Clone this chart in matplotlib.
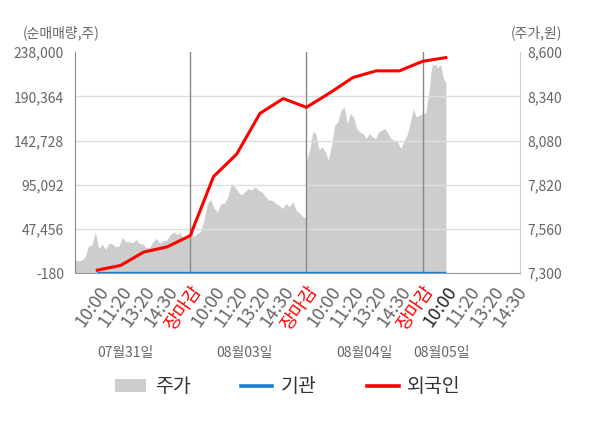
import numpy as np
import matplotlib.pyplot as plt
from matplotlib.patches import Patch
from matplotlib.lines import Line2D

plt.rcParams['font.family'] = ['Noto Sans CJK KR', 'DejaVu Sans']

# 주가 (원) - one list per trading day
price_0731 = [7376, 7372, 7376, 7396, 7459, 7465, 7543, 7445, 7471, 7439, 7475, 7471,
              7455, 7459, 7510, 7484, 7484, 7478, 7498, 7475, 7471, 7451, 7451, 7484,
              7504, 7475, 7490, 7494, 7523, 7543, 7529, 7537, 7504, 7523, 7518]
price_0803 = [7602, 7514, 7533, 7543, 7612, 7710, 7733, 7680, 7661, 7710, 7710, 7749,
              7827, 7808, 7778, 7759, 7778, 7798, 7788, 7808, 7788, 7778, 7749, 7729,
              7729, 7710, 7700, 7680, 7710, 7690, 7719, 7670, 7651, 7631, 7622]
price_0804 = [7964, 8023, 8131, 8121, 8027, 8043, 8013, 7964, 8053, 8170, 8190, 8258,
              8278, 8180, 8239, 8219, 8151, 8131, 8121, 8092, 8121, 8102, 8092, 8131,
              8141, 8151, 8121, 8092, 8082, 8072, 8033, 8072, 8111, 8180, 8268, 8219,
              8229, 8239]
price_0805 = [8239, 8239, 8248, 8317, 8376, 8484, 8533, 8523, 8533, 8504, 8523, 8523,
              8464, 8435, 8425]

# 누적 순매매량 (주)
foreign = [3000, 8000, 22500, 28000, 40200, 103800, 128200, 172000, 188000, 178600,
           194000, 210700, 217900, 217900, 228200, 232200]
inst = [0, 0, 0, 0, 0, 0, 0, 0, 0, 0, 0, 0, 0, 0, 0, 0]

tick_labels = ['10:00', '11:20', '13:20', '14:30', '장마감',
               '10:00', '11:20', '13:20', '14:30', '장마감',
               '10:00', '11:20', '13:20', '14:30', '장마감',
               '10:00', '11:20', '13:20', '14:30']
dates = ['07월31일', '08월03일', '08월04일', '08월05일']
date_pos = [1.2, 6.35, 11.5, 14.8]

left_ticks = [-180, 47456, 95092, 142728, 190364, 238000]
right_ticks = [7300, 7560, 7820, 8080, 8340, 8600]

days = [price_0731, price_0803, price_0804, price_0805]
spans = [(-0.96, 4), (4, 9), (9, 14), (14, 15)]
px, py = [], []
for vals, (a, b) in zip(days, spans):
    px.extend(np.linspace(a, b, len(vals)))
    py.extend(vals)

fig = plt.figure(figsize=(6, 4.28), dpi=100)
ax = fig.add_axes([0.125, 0.362, 0.742, 0.516])
ax2 = ax.twinx()

ax2.patch.set_facecolor('#f4f4f4')
ax2.fill_between(px, 7300, py, color='#cdcdcd', lw=0)
ax2.set_ylim(7300, 8600)
ax2.set_yticks(right_ticks)
ax2.set_yticklabels([f'{v:,}' for v in right_ticks])

ax.set_zorder(ax2.get_zorder() + 1)
ax.patch.set_visible(False)

for v in left_ticks[1:-1]:
    ax.axhline(v, color='#dddddd', lw=1, zorder=1)
for v in [4, 9, 14]:
    ax.axvline(v, color='#888888', lw=1, zorder=1.5)

xpos = np.arange(len(foreign))
ax.plot(xpos, inst, color='#1a7fd0', lw=2.4, zorder=3, solid_capstyle='butt')
ax.plot(xpos, foreign, color='#ff0000', lw=2.2, zorder=4)

ax.set_ylim(-180, 238000)
ax.set_yticks(left_ticks)
ax.set_yticklabels([f'{v:,}' for v in left_ticks])
ax.set_xlim(-0.96, 18.2)
ax.set_xticks(range(len(tick_labels)))
ax.set_xticklabels(tick_labels, rotation=55, ha='right', va='top', rotation_mode='anchor')
for i, t in enumerate(ax.get_xticklabels()):
    if tick_labels[i] == '장마감':
        t.set_color('#ff0000')
    elif i == 15:
        t.set_color('#222222')
    else:
        t.set_color('#666666')
ax.set_xticks([4, 9, 14], minor=True)
ax.tick_params(axis='x', which='major', length=0, labelsize=13, pad=7)
ax.tick_params(axis='x', which='minor', length=4, color='#888888')
ax.tick_params(axis='y', length=0, labelsize=10, labelcolor='#666666', pad=8)
ax2.tick_params(axis='y', length=0, labelsize=10, labelcolor='#666666', pad=5)

for s in ['top', 'right']:
    ax.spines[s].set_visible(False)
ax.spines['left'].set_color('#888888')
ax.spines['bottom'].set_color('#999999')
for s in ['top', 'left', 'bottom']:
    ax2.spines[s].set_visible(False)
ax2.spines['right'].set_color('#cccccc')

for d, p in zip(dates, date_pos):
    ax.text(p, -0.362, d, transform=ax.get_xaxis_transform(), ha='center', va='center',
            fontsize=10, color='#666666')

fig.text(23 / 600, 1 - 33 / 428, '(순매매량,주)', ha='left', va='center', fontsize=10, color='#666666')
fig.text(562 / 600, 1 - 33 / 428, '(주가,원)', ha='right', va='center', fontsize=10, color='#666666')

handles = [Patch(facecolor='#cdcdcd', edgecolor='none'),
           Line2D([], [], color='#1a7fd0', lw=2.6),
           Line2D([], [], color='#ff0000', lw=2.6)]
leg = fig.legend(handles, ['주가', '기관', '외국인'], loc='center', bbox_to_anchor=(0.48, 0.096),
                 ncol=3, frameon=False, fontsize=14, handlelength=1.6, columnspacing=2.6,
                 handletextpad=0.45)
for t in leg.get_texts():
    t.set_color('#333333')

fig.savefig('out.png', dpi=100)
